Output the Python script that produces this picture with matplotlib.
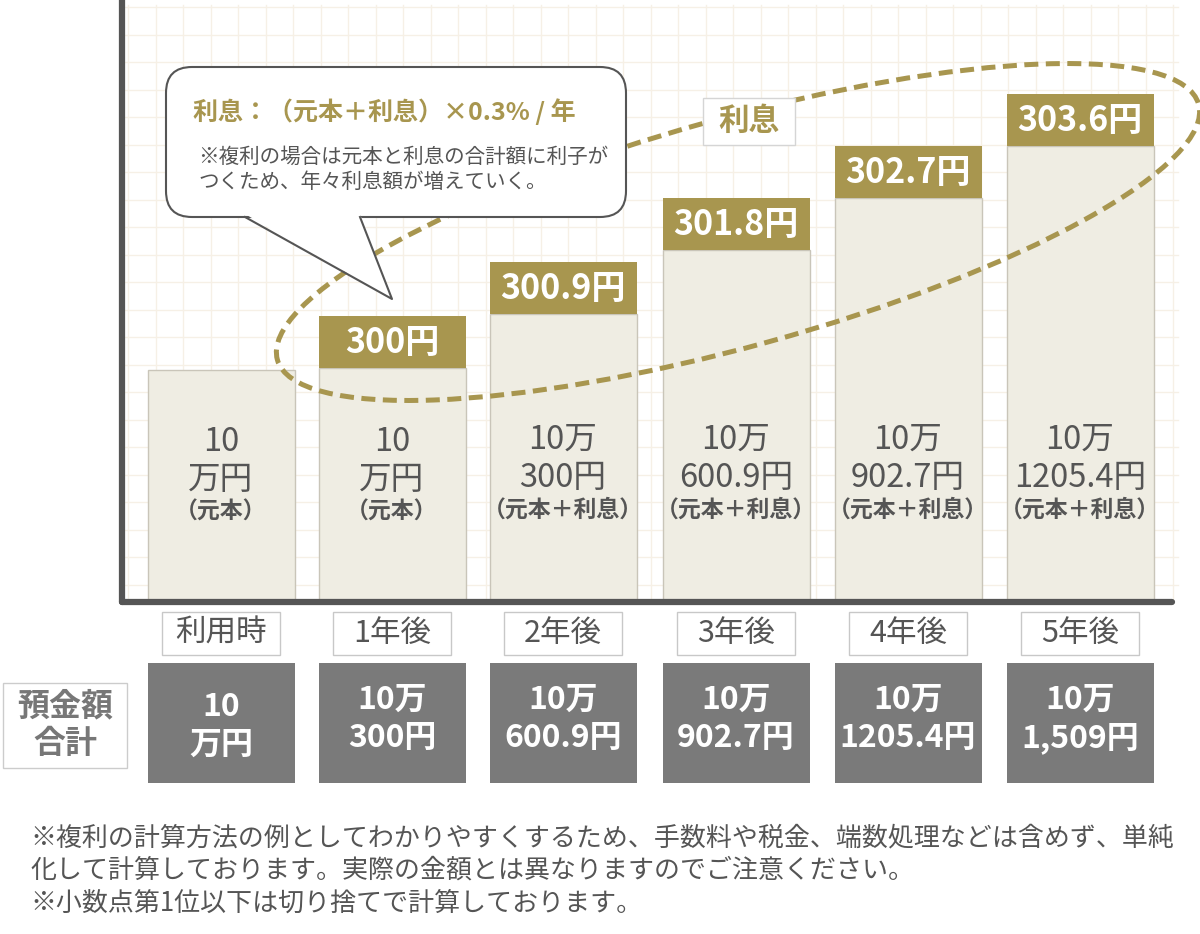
import matplotlib.pyplot as plt
import numpy as np
from matplotlib.patches import Ellipse, FancyBboxPatch, Polygon, Rectangle

plt.rcParams["font.family"] = ["Noto Sans CJK JP", "DejaVu Sans"]

# data
categories = ["利用時", "1年後", "2年後", "3年後", "4年後", "5年後"]
interest = ["300円", "300.9円", "301.8円", "302.7円", "303.6円"]
column_main = [["10", "万円"], ["10", "万円"], ["10万", "300円"], ["10万", "600.9円"],
               ["10万", "902.7円"], ["10万", "1205.4円"]]
column_note = ["（元本）", "（元本）", "（元本＋利息）", "（元本＋利息）", "（元本＋利息）", "（元本＋利息）"]
totals = [["10", "万円"], ["10万", "300円"], ["10万", "600.9円"], ["10万", "902.7円"],
          ["10万", "1205.4円"], ["10万", "1,509円"]]
# schematic column heights (px) as drawn in the picture
column_heights = [232, 234, 288, 352, 404, 456]

GOLD = "#a8964f"
COL_FILL = "#efede3"
COL_EDGE = "#c9c5b9"
DARK = "#555555"
TOTAL_FILL = "#7a7a7a"
GRID = "#f6f0e6"

W, H = 1200, 934
BASE = 602
BAR_W = 147
BOX_H = 52
xs = np.array([221, 392, 563, 736, 908, 1080])

fig = plt.figure(figsize=(W / 100, H / 100), dpi=100)
ax = fig.add_axes([0, 0, 1, 1])
ax.set_xlim(0, W)
ax.set_ylim(H, 0)
ax.axis("off")

# background grid
for gx in np.arange(128, 1180, 27.5):
    ax.plot([gx, gx], [5, BASE], color=GRID, lw=1, zorder=0)
for gy in np.arange(7, BASE, 27.5):
    ax.plot([125, 1178], [gy, gy], color=GRID, lw=1, zorder=0)

# columns and interest boxes
heights = np.array(column_heights)
ax.bar(xs, heights, bottom=BASE - heights, width=BAR_W, color=COL_FILL,
       edgecolor=COL_EDGE, lw=1, zorder=2)
ax.bar(xs[1:], BOX_H, bottom=BASE - heights[1:] - BOX_H, width=BAR_W,
       color=GOLD, zorder=3)
for x, h, lab in zip(xs[1:], heights[1:], interest):
    ax.text(x, BASE - h - BOX_H / 2, lab, ha="center", va="center", color="white",
            fontsize=24.5, fontweight="bold", zorder=4)

for i, (x, lines, note) in enumerate(zip(xs, column_main, column_note)):
    y0 = 442 if i < 2 else 440
    ax.text(x, y0, lines[0], ha="center", va="center", color=DARK, fontsize=23.5, zorder=4)
    ax.text(x, y0 + 38, lines[1], ha="center", va="center", color=DARK, fontsize=23.5, zorder=4)
    ax.text(x, y0 + 70, note, ha="center", va="center", color=DARK, fontsize=16.5,
            fontweight="bold", zorder=4)

# axes lines
ax.plot([122, 122], [0, BASE], color=DARK, lw=4.5, solid_capstyle="round", zorder=5)
ax.plot([122, 1172], [BASE, BASE], color=DARK, lw=4.5, solid_capstyle="round", zorder=5)

# dashed ellipse around interest
ax.add_patch(Ellipse((738, 232), 956, 228, angle=-15.5, fill=False, edgecolor=GOLD,
                     lw=3.6, linestyle=(0, (2.8, 1.5)), zorder=6))

# "利息" label
ax.add_patch(Rectangle((703, 98), 92, 47, facecolor="white", edgecolor="#d5d5d5",
                       lw=1, zorder=7))
ax.text(749, 121, "利息", ha="center", va="center", color=GOLD, fontsize=22,
        fontweight="bold", zorder=8)

# speech bubble
ax.add_patch(FancyBboxPatch((166, 67), 460, 150, boxstyle="round,pad=0,rounding_size=26",
                            facecolor="white", edgecolor=DARK, lw=1.5, zorder=7))
ax.add_patch(Polygon([(245, 214), (360, 214), (392, 299)], closed=True,
                     facecolor="white", edgecolor="none", zorder=8))
ax.plot([245, 392, 360], [217, 299, 217], color=DARK, lw=1.5, zorder=8)
ax.text(193, 112, "利息：（元本＋利息）×0.3% / 年", ha="left", va="center", color=GOLD,
        fontsize=18, fontweight="bold", zorder=9)
ax.text(198, 157, "※複利の場合は元本と利息の合計額に利子が", ha="left", va="center",
        color=DARK, fontsize=14.8, zorder=9)
ax.text(198, 182, "つくため、年々利息額が増えていく。", ha="left", va="center",
        color=DARK, fontsize=14.8, zorder=9)

# category labels
for x, cat in zip(xs, categories):
    ax.add_patch(Rectangle((x - 59, 612), 118, 43, facecolor="white", edgecolor="#c8c8c8",
                           lw=1, zorder=3))
    ax.text(x, 633, cat, ha="center", va="center", color=DARK, fontsize=22, zorder=4)

# totals row
ax.add_patch(Rectangle((3, 683), 124, 85, facecolor="white", edgecolor="#cccccc", lw=1))
ax.text(65, 706, "預金額", ha="center", va="center", color="#777777", fontsize=23,
        fontweight="bold")
ax.text(65, 744, "合計", ha="center", va="center", color="#777777", fontsize=23,
        fontweight="bold")
ax.bar(xs, 120, bottom=663, width=BAR_W, color=TOTAL_FILL, zorder=2)
for i, (x, lines) in enumerate(zip(xs, totals)):
    y0 = 707 if i == 0 else 700
    ax.text(x, y0, lines[0], ha="center", va="center", color="white", fontsize=23,
            fontweight="bold", zorder=4)
    ax.text(x, y0 + 38, lines[1], ha="center", va="center", color="white", fontsize=23,
            fontweight="bold", zorder=4)

# footnotes
notes = [
    "※複利の計算方法の例としてわかりやすくするため、手数料や税金、端数処理などは含めず、単純",
    "化して計算しております。実際の金額とは異なりますのでご注意ください。",
    "※小数点第1位以下は切り捨てで計算しております。",
]
for y, line in zip([838, 870, 903], notes):
    ax.text(30, y, line, ha="left", va="center", color=DARK, fontsize=18.7)

fig.savefig("out.png", dpi=100, facecolor="white")
